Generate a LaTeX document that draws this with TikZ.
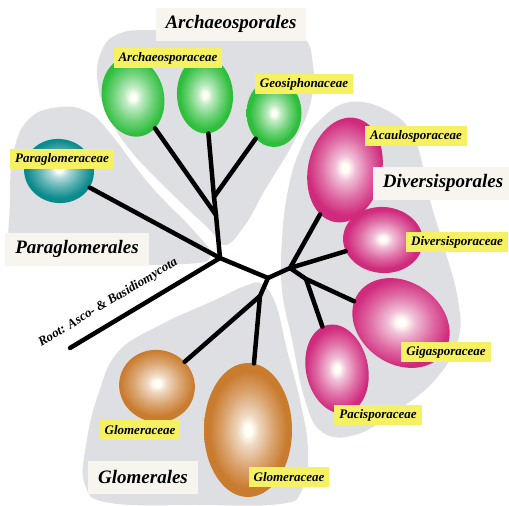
\documentclass[tikz,border=0pt]{standalone}
\usepackage{fontspec}
\setmainfont{Liberation Serif}
\usepackage{tikz}
\usetikzlibrary{shapes.geometric, calc}
\definecolor{regiongray}{HTML}{DEDFE3}
\definecolor{labelyellow}{HTML}{F6F063}
\definecolor{titlecream}{HTML}{F7F5EE}
\definecolor{archgreen}{HTML}{2EBE3C}
\definecolor{paracyan}{HTML}{0A8A8C}
\definecolor{diverspink}{HTML}{D02A7C}
\definecolor{glomtan}{HTML}{C97B2E}
\colorlet{blobcol}{archgreen}
\pgfdeclareradialshading[blobcol]{blob}{\pgfpoint{0bp}{0bp}}{color(0bp)=(white); color(2bp)=(white!96!yellow); color(6bp)=(blobcol!30!white); color(14bp)=(blobcol!68!white); color(22bp)=(blobcol); color(50bp)=(blobcol)}

\begin{document}
\begin{tikzpicture}[
  x=1pt, y=-1pt,
  region/.style={fill=regiongray, draw=none},
  fam/.style={ellipse, shading=blob, draw=none, inner sep=0pt},
  famcol/.code={\colorlet{blobcol}{#1}},
  branch/.style={draw=black, line width=4.5pt, line cap=round, line join=round},
  famlabel/.style={fill=labelyellow, font=\fontsize{13}{15}\selectfont\bfseries\itshape, inner xsep=5pt, inner ysep=2pt, minimum height=20pt},
  ordertitle/.style={fill=titlecream, font=\fontsize{19}{22}\selectfont\bfseries\itshape, inner xsep=10pt, minimum height=33pt},
  rootlabel/.style={sloped, above=11pt, inner sep=0pt, font=\fontsize{13}{15}\selectfont\bfseries\itshape}
]
\useasboundingbox (0,0) rectangle (509,506);

% order regions
\fill[region] plot[smooth cycle, tension=0.7] coordinates {(14,150) (30,118) (60,107) (88,112) (110,133) (150,185) (195,232) (210,255) (185,264) (60,264) (14,258) (10,200)};
\fill[region] plot[smooth cycle, tension=0.7] coordinates {(100,55) (118,34) (160,30) (250,32) (300,36) (313,65) (310,105) (292,145) (265,190) (245,225) (225,245) (208,228) (170,192) (130,150) (108,115) (98,85)};
\fill[region] plot[smooth cycle, tension=0.7] coordinates {(300,150) (318,122) (350,102) (390,112) (415,140) (430,200) (445,250) (458,300) (458,340) (435,380) (395,412) (355,435) (322,432) (305,400) (292,340) (282,290) (282,240) (288,190)};
\fill[region] plot[smooth cycle, tension=0.7] coordinates {(262,284) (276,305) (287,350) (300,400) (308,450) (302,490) (280,504) (200,505) (110,503) (85,485) (86,445) (98,395) (118,352) (160,325) (215,300) (245,286)};

% families
\node[fam, famcol=paracyan, minimum width=70, minimum height=64, rotate=-10] (para) at (59,171) {};
\node[fam, famcol=archgreen, minimum width=62, minimum height=80, rotate=12] (arch1) at (133,97) {};
\node[fam, famcol=archgreen, minimum width=56, minimum height=77, rotate=3] (arch2) at (205,95) {};
\node[fam, famcol=archgreen, minimum width=55, minimum height=68] (geo) at (274,113) {};
\node[fam, famcol=diverspink, minimum width=74, minimum height=106, rotate=-12] (acaulo) at (345,170) {};
\node[fam, famcol=diverspink, minimum width=80, minimum height=66, rotate=-5] (divers) at (383,240) {};
\node[fam, famcol=diverspink, minimum width=104, minimum height=82, rotate=-35] (giga) at (401,323) {};
\node[fam, famcol=diverspink, minimum width=62, minimum height=90, rotate=12] (paci) at (337,369) {};
\node[fam, famcol=glomtan, minimum width=76, minimum height=72, rotate=-15] (glom1) at (157,386) {};
\node[fam, famcol=glomtan, minimum width=88, minimum height=134] (glom2) at (248,430) {};

% tree
\coordinate (root) at (70,348);
\coordinate (A) at (220,258);
\coordinate (B) at (216,215);
\coordinate (C) at (214,197);
\coordinate (D) at (268,278);
\coordinate (E) at (260,296);
\coordinate (F) at (290,268);
\coordinate (G) at (306,279);
\draw[branch] (root) -- node[rootlabel, pos=0.32] {Root: Asco- \& Basidiomycota} (A);
\draw[branch] (A) -- (para);
\draw[branch] (A) -- (B) -- (C) -- (arch2);
\draw[branch] (B) -- (arch1);
\draw[branch] (C) -- (geo);
\draw[branch] (A) -- (D) -- (F) -- (acaulo);
\draw[branch] (F) -- (divers);
\draw[branch] (F) -- (G) -- (giga);
\draw[branch] (G) -- (paci);
\draw[branch] (D) -- (E) -- (glom1);
\draw[branch] (E) -- (glom2);

% labels
\node[famlabel] (arch1lbl) at (168,58) {Archaeosporaceae};
\node[famlabel] (geolbl) at (304,84) {Geosiphonaceae};
\node[famlabel] (paralbl) at (62,159) {Paraglomeraceae};
\node[famlabel] (acaulolbl) at (416,136) {Acaulosporaceae};
\node[famlabel] (diverslbl) at (457,242) {Diversisporaceae};
\node[famlabel] (gigalbl) at (446,352) {Gigasporaceae};
\node[famlabel] (pacilbl) at (378,415) {Pacisporaceae};
\node[famlabel] (glom1lbl) at (140,430) {Glomeraceae};
\node[famlabel] (glom2lbl) at (289,477) {Glomeraceae};

\node[ordertitle] (archord) at (231,24) {Archaeosporales};
\node[ordertitle] (diversord) at (443,183) {Diversisporales};
\node[ordertitle] (paraord) at (77,249) {Paraglomerales};
\node[ordertitle] (glomord) at (143,477) {Glomerales};
\end{tikzpicture}
\end{document}
